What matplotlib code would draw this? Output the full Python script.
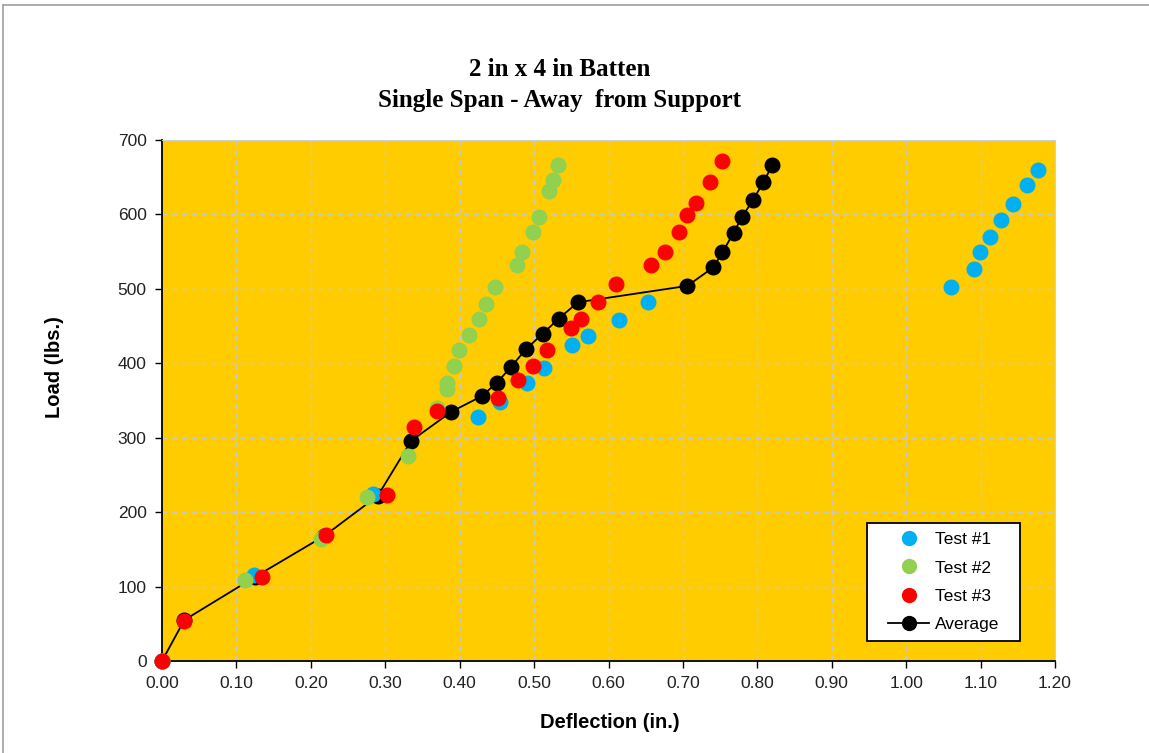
import numpy as np
import matplotlib.pyplot as plt
from matplotlib.lines import Line2D
from matplotlib.patches import Rectangle

# data
t1_x = [0.0, 0.123, 0.218, 0.283, 0.425, 0.454, 0.490, 0.513, 0.551, 0.573, 0.614, 0.653,
        1.060, 1.091, 1.099, 1.113, 1.128, 1.144, 1.162, 1.177]
t1_y = [0, 115, 168, 225, 328, 348, 374, 393, 424, 436, 458, 483,
        502, 527, 550, 570, 592, 614, 640, 660]

t2_x = [0.0, 0.112, 0.214, 0.275, 0.330, 0.370, 0.383, 0.383, 0.393, 0.399, 0.413, 0.426, 0.435,
        0.448, 0.477, 0.484, 0.499, 0.506, 0.520, 0.525, 0.532]
t2_y = [0, 109, 164, 220, 276, 340, 366, 374, 397, 418, 438, 459, 480,
        502, 532, 550, 576, 596, 632, 646, 667]

t3_x = [0.0, 0.029, 0.135, 0.220, 0.302, 0.338, 0.370, 0.452, 0.478, 0.499, 0.518, 0.549, 0.563, 0.586,
        0.610, 0.657, 0.676, 0.695, 0.706, 0.718, 0.737, 0.753]
t3_y = [0, 54, 113, 169, 223, 315, 336, 354, 378, 396, 418, 448, 460, 482,
        507, 532, 549, 577, 599, 616, 644, 672]

avg_x = [0.0, 0.03, 0.125, 0.218, 0.290, 0.335, 0.389, 0.430, 0.450, 0.469, 0.489, 0.512, 0.533, 0.559,
         0.706, 0.741, 0.753, 0.768, 0.779, 0.794, 0.808, 0.820]
avg_y = [0, 55, 113, 168, 222, 296, 335, 356, 374, 395, 419, 440, 460, 482,
         504, 529, 549, 575, 596, 619, 643, 666]

x_ticks = np.arange(0, 1.21, 0.1)
y_ticks = np.arange(0, 701, 100)

fig = plt.figure(figsize=(11.49, 7.53), dpi=100)
ax = fig.add_axes([162 / 1149, 1 - 661 / 753, 893 / 1149, 521 / 753])
ax.set_facecolor('#FFCC00')

ms = 10.5
ax.plot(avg_x, avg_y, color='black', lw=1.3, marker='o', ms=ms, mec='black', mfc='black',
        label='Average', zorder=3, clip_on=False)
ax.plot(t1_x, t1_y, ls='none', marker='o', ms=ms, mfc='#00B0F0', mec='#00B0F0', label='Test #1', zorder=4, clip_on=False)
ax.plot(t2_x, t2_y, ls='none', marker='o', ms=ms, mfc='#92D050', mec='#92D050', label='Test #2', zorder=5, clip_on=False)
ax.plot(t3_x, t3_y, ls='none', marker='o', ms=ms, mfc='#FF0000', mec='#FF0000', label='Test #3', zorder=6, clip_on=False)

ax.set_xlim(0, 1.2)
ax.set_ylim(0, 700)
ax.set_xticks(x_ticks)
ax.set_yticks(y_ticks)
ax.set_xticklabels(['%.2f' % v for v in x_ticks])
ax.grid(True, color='#C8C8C8', ls=(0, (4, 3)), lw=1)
ax.set_axisbelow(True)
for lab in ax.get_xticklabels() + ax.get_yticklabels():
    lab.set_fontfamily('Liberation Sans')
    lab.set_fontsize(12.5)
ax.tick_params(direction='out', length=5, width=1, pad=6, labelcolor='#222222')

ax.spines['left'].set_color('black')
ax.spines['bottom'].set_color('black')
ax.spines['left'].set_linewidth(1.3)
ax.spines['bottom'].set_linewidth(1.3)
ax.spines['top'].set_color('#D0D0D0')
ax.spines['right'].set_color('#D0D0D0')

fig.text(560 / 1149, 1 - 70 / 753, '2 in x 4 in Batten', ha='center', va='center',
         family='Liberation Serif', weight='bold', fontsize=18)
fig.text(560 / 1149, 1 - 101 / 753, 'Single Span - Away  from Support', ha='center', va='center',
         family='Liberation Serif', weight='bold', fontsize=18)
fig.text(610 / 1149, 1 - 723 / 753, 'Deflection (in.)', ha='center', va='center',
         family='Liberation Sans', weight='bold', fontsize=14.5)
fig.text(55 / 1149, 1 - 367 / 753, 'Load (lbs.)', ha='center', va='center', rotation=90,
         family='Liberation Sans', weight='bold', fontsize=14.5)

# legend: white box with black frame
box = Rectangle((0.789, 0.038), 0.172, 0.227, transform=ax.transAxes, facecolor='white',
                edgecolor='black', lw=1.3, zorder=7)
ax.add_patch(box)
handles, labels = ax.get_legend_handles_labels()
order = [1, 2, 3, 0]
leg = ax.legend([handles[i] for i in order], [labels[i] for i in order],
                loc='center', bbox_to_anchor=(0.875, 0.1515), frameon=False,
                prop={'family': 'Liberation Sans', 'size': 12.5}, handlelength=2.4, labelspacing=0.75,
                handletextpad=0.3, markerscale=0.95)
leg.set_zorder(8)

# outer border of the chart (left and top only visible)
fig.add_artist(Line2D([3 / 1149, 3 / 1149], [0, 1 - 5 / 753], color='#A0A0A0', lw=1.2, transform=fig.transFigure))
fig.add_artist(Line2D([3 / 1149, 1], [1 - 5 / 753, 1 - 5 / 753], color='#A0A0A0', lw=1.2, transform=fig.transFigure))

fig.savefig('out.png', dpi=100)
